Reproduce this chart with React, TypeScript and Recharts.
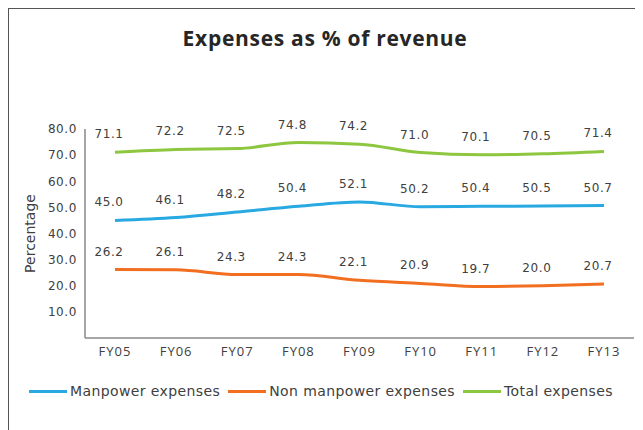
import React from 'react';
import { LineChart, Line, XAxis, YAxis, LabelList } from 'recharts';

const years = ['FY05', 'FY06', 'FY07', 'FY08', 'FY09', 'FY10', 'FY11', 'FY12', 'FY13'];
const manpower = [45.0, 46.1, 48.2, 50.4, 52.1, 50.2, 50.4, 50.5, 50.7];
const nonManpower = [26.2, 26.1, 24.3, 24.3, 22.1, 20.9, 19.7, 20.0, 20.7];
const total = [71.1, 72.2, 72.5, 74.8, 74.2, 71.0, 70.1, 70.5, 71.4];
const yTicks = [10, 20, 30, 40, 50, 60, 70, 80];

const series = [
  { key: 'manpower', name: 'Manpower expenses', color: '#29A9E1' },
  { key: 'nonManpower', name: 'Non manpower expenses', color: '#F26F22' },
  { key: 'total', name: 'Total expenses', color: '#8DC63F' },
];

const data = years.map((y, i) => ({
  year: y,
  manpower: manpower[i],
  nonManpower: nonManpower[i],
  total: total[i],
}));

const numFont = '"DejaVu Sans", Verdana, sans-serif';

const ValueLabel = (props: any) => {
  const { x, y, value } = props;
  return (
    <text
      x={x - 6}
      y={y - 14}
      textAnchor="middle"
      fontFamily={numFont}
      fontSize={12}
      letterSpacing={0.6}
      fill="#404040"
    >
      {Number(value).toFixed(1)}
    </text>
  );
};

const LegendRow = () => (
  <div
    style={{
      display: 'flex',
      justifyContent: 'center',
      alignItems: 'center',
      fontFamily: numFont,
      fontSize: 14,
      letterSpacing: 0.4,
      color: '#404040',
    }}
  >
    {series.map((s) => (
      <div key={s.key} style={{ display: 'flex', alignItems: 'center', marginRight: 8 }}>
        <div style={{ width: 38, height: 3, background: s.color, marginRight: 3 }} />
        <span>{s.name}</span>
      </div>
    ))}
  </div>
);

export default function App() {
  return (
    <div
      style={{
        position: 'relative',
        width: 632,
        height: 430,
        borderLeft: '1px solid #555',
        borderTop: '1px solid #555',
        borderRight: '1px solid #555',
        background: '#fff',
      }}
    >
      <div
        style={{
          position: 'absolute',
          top: 15,
          left: 0,
          width: 632,
          textAlign: 'center',
          fontFamily: '"Open Sans", sans-serif',
          fontWeight: 700,
          fontSize: 21,
          letterSpacing: 0.7,
          color: '#262626',
        }}
      >
        Expenses as % of revenue
      </div>
      <div style={{ position: 'absolute', left: 0, top: 0 }}>
        <LineChart width={632} height={420} data={data} margin={{ top: 120, right: 7, bottom: 61, left: 26 }}>
          <XAxis
            dataKey="year"
            padding={{ left: 30, right: 30 }}
            axisLine={{ stroke: '#888', strokeWidth: 1.5 }}
            tickLine={false}
            tick={{ fontFamily: '"Open Sans", sans-serif', fontSize: 13, letterSpacing: 1, fill: '#404040' }}
            tickMargin={3}
            height={30}
          />
          <YAxis
            domain={[0, 80]}
            ticks={yTicks}
            tickFormatter={(v: number) => v.toFixed(1)}
            axisLine={{ stroke: '#888', strokeWidth: 1.5 }}
            tickLine={false}
            tick={{ fontFamily: numFont, fontSize: 12, letterSpacing: 0.6, fill: '#404040' }}
            tickMargin={2}
            width={50}
            label={{
              value: 'Percentage',
              angle: -90,
              position: 'insideLeft',
              dx: -10,
              style: { fontFamily: numFont, fontSize: 14, fill: '#404040', textAnchor: 'middle' },
            }}
          />
          {series.map((s) => (
            <Line
              key={s.key}
              type="monotone"
              dataKey={s.key}
              name={s.name}
              stroke={s.color}
              strokeWidth={3}
              dot={false}
              isAnimationActive={false}
            >
              <LabelList dataKey={s.key} content={ValueLabel} />
            </Line>
          ))}
        </LineChart>
      </div>
      <div style={{ position: 'absolute', left: 0, top: 374, width: 632 }}>
        <LegendRow />
      </div>
    </div>
  );
}
